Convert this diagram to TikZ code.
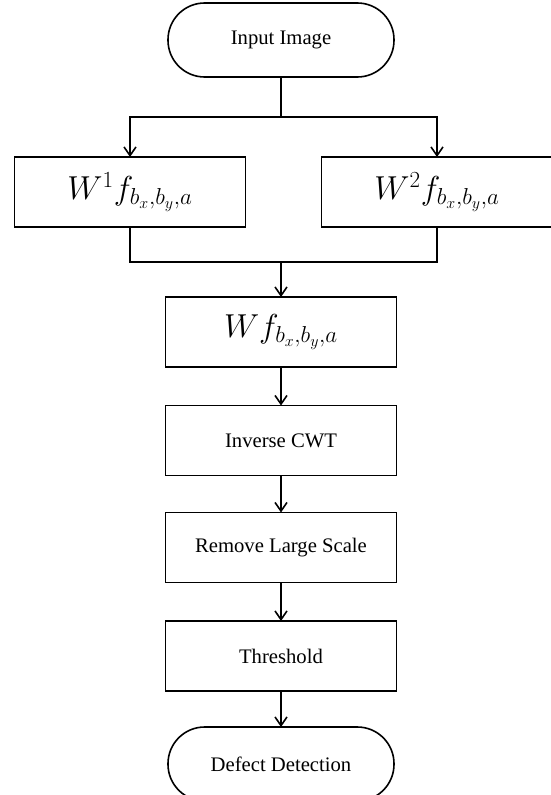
\documentclass[tikz,border=0pt]{standalone}
\usepackage{fontspec}
\setmainfont{Liberation Serif}
\usetikzlibrary{arrows.meta,positioning}
\begin{document}
\begin{tikzpicture}[x=0.75pt,y=-0.75pt,
  every node/.style={inner sep=0pt,outer sep=0pt},
  proc/.style={draw,line width=1.2pt,minimum width=173pt,minimum height=52.5pt,font=\fontsize{15.5}{18}\selectfont},
  mproc/.style={proc,font=\fontsize{24}{28}\selectfont},
  term/.style={draw,line width=1.2pt,rounded corners=27.5pt,minimum width=169.5pt,minimum height=55.5pt,font=\fontsize{15.5}{18}\selectfont},
  conn/.style={line width=1.2pt},
  arr/.style={conn,-{Straight Barb[length=6.5pt,width=9pt,line width=1.2pt]}}]
\useasboundingbox (0,0) rectangle (550,795);
\node[term] (in) at (281,40) {Input Image};
\node[mproc] (w1) at (130,192) {$W^1f_{b_x,b_y,a}$};
\node[mproc] (w2) at (437,192) {$W^2f_{b_x,b_y,a}$};
\node[mproc] (wf) at (281,332) {$Wf_{b_x,b_y,a}$};
\node[proc] (icwt) at (281,440.5) {Inverse CWT};
\node[proc] (rls) at (281,547.5) {Remove Large Scale};
\node[proc] (thr) at (281,656) {Threshold};
\node[term] (dd) at (281,764) {Defect Detection};
\coordinate (j1) at (281,117);
\coordinate (j2) at (281,262);
\draw[conn] (in.south) -- (j1);
\draw[arr] (j1) -| (w1.north);
\draw[arr] (j1) -| (w2.north);
\draw[conn] (w1.south) |- (j2);
\draw[conn] (w2.south) |- (j2);
\draw[arr] (j2) -- (wf.north);
\draw[arr] (wf) -- (icwt);
\draw[arr] (icwt) -- (rls);
\draw[arr] (rls) -- (thr);
\draw[arr] (thr) -- (dd);
\end{tikzpicture}
\end{document}
